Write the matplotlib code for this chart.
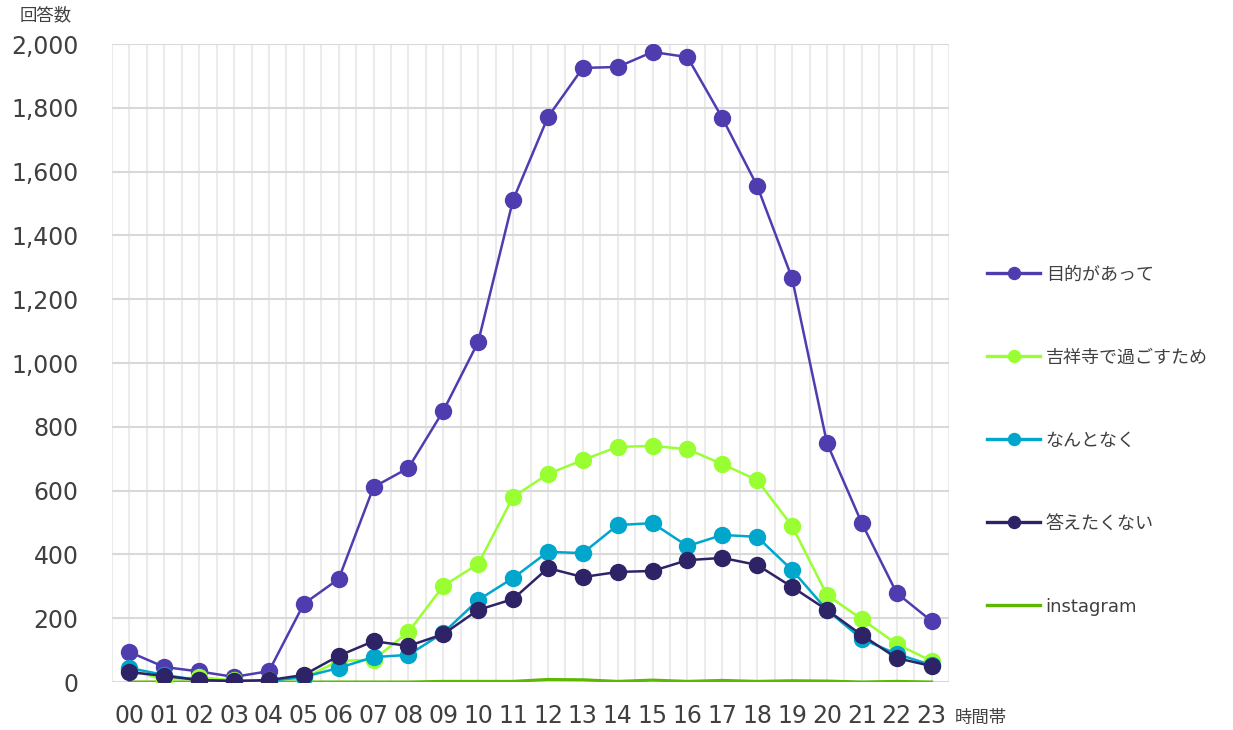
import numpy as np
import matplotlib
matplotlib.use("Agg")
import matplotlib.pyplot as plt
from matplotlib.ticker import FuncFormatter, MultipleLocator

plt.rcParams['font.family'] = ['DejaVu Sans', 'Noto Sans CJK JP']

hours = ["%02d" % h for h in range(24)]

mokuteki = [94, 47, 33, 16, 34, 245, 323, 611, 671, 850, 1066, 1511,
            1771, 1925, 1928, 1975, 1959, 1768, 1555, 1266, 749, 498, 279, 191]
sugosu = [40, 6, 15, 5, 5, 12, 66, 70, 157, 301, 370, 580,
          652, 696, 737, 740, 730, 683, 633, 489, 273, 197, 119, 66]
nantonaku = [44, 22, 6, 3, 3, 16, 44, 78, 85, 154, 257, 326,
             408, 404, 492, 498, 426, 461, 455, 351, 226, 135, 88, 53]
kotaetakunai = [31, 19, 6, 3, 6, 22, 82, 128, 113, 150, 226, 260,
                357, 329, 345, 348, 382, 389, 367, 298, 226, 147, 75, 50]
instagram = [0, 0, 0, 0, 0, 0, 0, 0, 0, 2, 2, 2,
             8, 7, 2, 6, 2, 5, 2, 4, 3, 0, 2, 0]

series = [
    ("目的があって", mokuteki, "#4f3db0", True),
    ("吉祥寺で過ごすため", sugosu, "#99ff33", True),
    ("なんとなく", nantonaku, "#00a6cc", True),
    ("答えたくない", kotaetakunai, "#2e2366", True),
    ("instagram", instagram, "#5cb800", False),
]

fig = plt.figure(figsize=(12.33, 7.3), dpi=100)
ax = fig.add_axes([112 / 1233, 48 / 730, 837 / 1233, 638 / 730])

x = np.arange(len(hours))
for i, (name, vals, col, mk) in enumerate(series):
    if mk:
        ax.plot(x, vals, color=col, lw=1.8, marker='o', ms=11.5,
                label=name, zorder=3 + i)
    else:
        ax.plot(x, vals, color=col, lw=2.2, label=name, zorder=2)

ax.set_xlim(-0.5, 23.5)
ax.set_ylim(0, 2000)
ax.set_xticks(x)
ax.set_xticklabels(hours)
ax.yaxis.set_major_locator(MultipleLocator(200))
ax.yaxis.set_major_formatter(FuncFormatter(lambda v, p: f"{int(v):,}"))

# grid
for gx in np.arange(-0.5, 23.51, 0.5):
    ax.axvline(gx, color="#ebebeb", lw=1.5, zorder=0)
for gy in range(0, 2001, 200):
    ax.axhline(gy, color="#d9d9d9", lw=1.5, zorder=1)

for s in ax.spines.values():
    s.set_visible(False)
ax.tick_params(length=0, labelsize=17, labelcolor="#404040")
ax.tick_params(axis='y', pad=24)
ax.tick_params(axis='x', pad=16)

fig.text(20 / 1233, 1 - 15 / 730, "回答数", fontsize=12.5, color="#404040",
         ha="left", va="center")
fig.text(955 / 1233, 1 - 718 / 730, "時間帯", fontsize=12.5, color="#404040",
         ha="left", va="center")

leg = fig.legend(loc="center left", bbox_to_anchor=(987 / 1233, 1 - 440.5 / 730),
                 frameon=False, fontsize=13, handlelength=2.95, handletextpad=0.3,
                 labelspacing=3.6, borderpad=0, borderaxespad=0, markerscale=0.75)
for t in leg.get_texts():
    t.set_color("#404040")
for h in leg.legend_handles:
    h.set_linewidth(2.4)

fig.savefig("out.png", dpi=100)
